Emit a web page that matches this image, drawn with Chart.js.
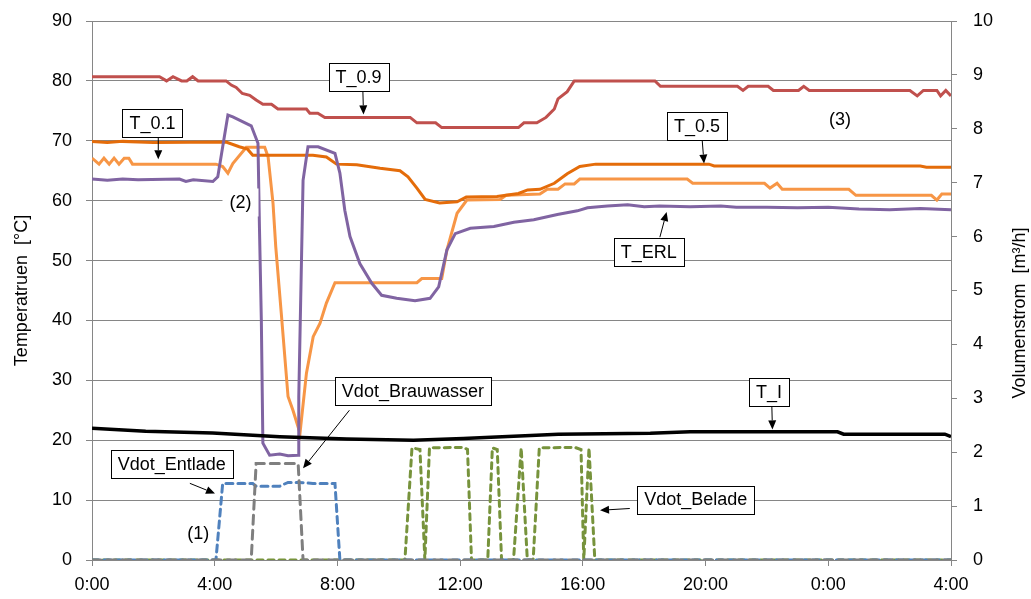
<!DOCTYPE html>
<html>
<head>
<meta charset="utf-8">
<script src="https://cdn.jsdelivr.net/npm/chart.js@4.4.1/dist/chart.umd.min.js"></script>
<style>
  html, body { margin: 0; padding: 0; background: #fff; }
  #wrap { width: 1031px; height: 599px; position: relative; }
</style>
</head>
<body>
<div id="wrap"><canvas id="myChart"></canvas></div>
<script>
// Werte als [Stunde seit 0:00, Wert]; Temperaturen in °C, Volumenströme in m³/h
const T_09 = [[0,80.7],[2.2,80.7],[2.43,80.0],[2.64,80.7],[2.92,80.0],[3.09,80.0],[3.28,80.7],[3.46,80.0],[4.37,80.0],[4.54,79.3],[4.7,78.9],[4.9,77.9],[5.14,77.6],[5.35,76.8],[5.57,76.1],[5.85,76.1],[6.06,75.3],[6.99,75.3],[7.1,74.6],[7.36,74.6],[7.59,73.9],[10.37,73.9],[10.59,73.0],[11.2,73.0],[11.4,72.2],[13.9,72.2],[14.08,73.0],[14.5,73.0],[14.8,73.9],[15.07,75.3],[15.19,77.0],[15.49,78.2],[15.72,80.0],[18.35,80.0],[18.53,79.1],[21.04,79.1],[21.22,78.4],[21.39,79.1],[22.04,79.1],[22.21,78.4],[23.03,78.4],[23.2,79.1],[23.38,78.4],[26.66,78.4],[26.9,77.5],[27.1,78.4],[27.54,78.4],[27.66,77.5],[27.83,78.4],[28,77.5]];

const T_05 = [[0,69.9],[0.5,69.7],[1,69.9],[2,69.7],[4.37,69.8],[4.8,69.0],[5.07,68.6],[5.24,67.6],[7.2,67.6],[7.64,67.3],[7.97,66.1],[8.63,66.0],[9.39,65.4],[10.04,65.0],[10.3,64.0],[10.59,62.1],[10.86,60.2],[11.33,59.6],[11.9,59.8],[12.2,60.6],[13.2,60.7],[13.9,61.2],[14.2,61.8],[14.6,61.9],[15.07,62.9],[15.49,64.5],[15.9,65.7],[16.42,66.1],[20.11,66.1],[20.28,65.8],[27.0,65.8],[27.2,65.6],[28,65.6]];

const T_01 = [[0,67.1],[0.23,66.1],[0.39,67.1],[0.56,66.1],[0.72,67.1],[0.88,66.1],[1.05,67.1],[1.2,67.1],[1.32,66.1],[4.04,66.1],[4.26,65.7],[4.43,64.6],[4.59,66.2],[5.03,68.9],[5.63,68.9],[5.74,67.3],[5.9,59.6],[5.99,52.3],[6.17,41.2],[6.39,27.3],[6.55,25.0],[6.78,21.2],[6.99,31.2],[7.21,37.3],[7.43,39.5],[7.64,42.9],[7.92,46.3],[10.59,46.3],[10.75,47.0],[11.4,47.0],[11.57,51.8],[11.9,57.9],[12.22,60.1],[13.3,60.2],[13.5,60.9],[14.6,61.1],[14.84,61.9],[15.19,61.9],[15.42,62.8],[15.72,62.8],[15.9,63.6],[19.4,63.6],[19.58,62.9],[21.92,62.9],[22.1,62.1],[22.33,62.9],[22.5,61.9],[24.67,61.9],[24.9,60.9],[27.36,60.9],[27.54,60.1],[27.7,61.1],[28,61.1]];

const T_ERL = [[0,63.6],[0.5,63.4],[1,63.6],[1.5,63.5],[2.85,63.6],[3.06,63.2],[3.3,63.5],[3.94,63.2],[4.1,64.0],[4.26,69.0],[4.43,74.3],[4.59,74.0],[5.19,72.5],[5.41,69.6],[5.46,55.1],[5.52,40.0],[5.57,19.5],[5.79,17.5],[6.12,17.7],[6.39,17.4],[6.72,17.5],[6.74,27.3],[6.88,63.4],[7.04,69.0],[7.37,69.0],[7.92,67.9],[8.08,64.6],[8.24,58.4],[8.41,54.0],[8.73,49.5],[9.12,46.2],[9.44,44.2],[9.93,43.7],[10.53,43.3],[11.02,43.7],[11.3,45.6],[11.57,51.8],[11.84,54.5],[12.33,55.4],[13.1,55.7],[13.75,56.4],[14.4,56.8],[15.17,57.7],[15.82,58.3],[16.15,58.8],[16.8,59.1],[17.46,59.3],[18.0,59.0],[18.5,59.1],[19.5,59.0],[20.5,59.1],[21.0,58.9],[22.0,58.9],[23.0,58.8],[24.0,58.9],[25.0,58.6],[26.0,58.5],[27.0,58.7],[28,58.5]];

const T_I = [[0,22.0],[1.75,21.5],[3.93,21.2],[6.12,20.6],[8.3,20.2],[10.48,20.0],[12.1,20.3],[13.0,20.5],[14.3,20.8],[15.2,21.0],[18.2,21.15],[19.5,21.4],[24.3,21.4],[24.5,21.0],[27.8,21.0],[28,20.6]];

const V_Entlade = [[0,0],[4.04,0],[4.26,1.42],[5.24,1.42],[5.35,1.37],[6.12,1.37],[6.39,1.44],[6.72,1.44],[7.2,1.42],[7.92,1.42],[8.08,0],[28,0]];

const V_Brauwasser = [[0,0],[5.19,0],[5.35,1.79],[6.72,1.79],[6.88,0],[28,0]];

const V_Belade = [[0,0],[10.2,0],[10.43,2.08],[10.69,2.05],[10.85,0],[11.0,2.08],[12.1,2.09],[12.24,2.05],[12.37,0],[12.9,0],[13.05,2.08],[13.21,2.05],[13.35,0],[13.74,0],[13.99,2.08],[14.19,0],[14.38,0],[14.58,2.08],[15.74,2.09],[15.94,2.05],[16.03,0],[16.2,2.08],[16.39,0],[28,0]];

const xTickLabels = ['0:00', '4:00', '8:00', '12:00', '16:00', '20:00', '0:00', '4:00'];

// Beschriftungen (in Achseneinheiten: Stunde, °C)
const notes = [
    { text: 'T_0.9', x: 8.69, y: 80.6, box: true, arrow: [8.83, 78.2, 8.85, 74.4] },
    { text: 'T_0.1', x: 1.97, y: 73.0, box: true, arrow: [2.16, 70.7, 2.16, 66.9] },
    { text: 'T_0.5', x: 19.72, y: 72.5, box: true, arrow: [19.89, 70.1, 19.95, 66.2] },
    { text: '(3)', x: 24.38, y: 73.7 },
    { text: '(2)', x: 4.84, y: 59.7, bg: true },
    { text: 'T_ERL', x: 18.15, y: 51.5, box: true, arrow: [18.51, 53.9, 18.73, 58.1] },
    { text: 'T_I', x: 22.07, y: 28.0, box: true, arrow: [22.16, 25.7, 22.18, 21.8] },
    { text: 'Vdot_Brauwasser', x: 10.46, y: 28.25, box: true, arrow: [8.39, 25.0, 6.88, 15.3] },
    { text: 'Vdot_Entlade', x: 2.6, y: 16.1, box: true, arrow: [3.19, 12.8, 4.01, 11.1] },
    { text: '(1)', x: 3.46, y: 4.5 },
    { text: 'Vdot_Belade', x: 19.68, y: 10.1, box: true, arrow: [17.53, 8.6, 16.56, 8.3] }
];

const FONT = "'Liberation Sans', Arial, sans-serif";
const GRID = '#868686';

function pts(arr) {
    return arr.map(p => ({ x: p[0], y: p[1] }));
}

function drawArrow(ctx, x1, y1, x2, y2) {
    const ang = Math.atan2(y2 - y1, x2 - x1);
    const len = 9, half = 4;
    ctx.beginPath();
    ctx.moveTo(x1, y1);
    ctx.lineTo(x2 - Math.cos(ang) * len, y2 - Math.sin(ang) * len);
    ctx.stroke();
    ctx.beginPath();
    ctx.moveTo(x2, y2);
    ctx.lineTo(x2 - Math.cos(ang) * len - Math.sin(ang) * half, y2 - Math.sin(ang) * len + Math.cos(ang) * half);
    ctx.lineTo(x2 - Math.cos(ang) * len + Math.sin(ang) * half, y2 - Math.sin(ang) * len - Math.cos(ang) * half);
    ctx.closePath();
    ctx.fill();
}

const notesPlugin = {
    id: 'notes',
    afterDatasetsDraw(chart) {
        const ctx = chart.ctx;
        const sx = chart.scales.x, sy = chart.scales.y;
        ctx.save();
        ctx.font = '18px ' + FONT;
        ctx.textAlign = 'center';
        ctx.textBaseline = 'middle';
        ctx.lineWidth = 1;
        ctx.strokeStyle = '#000';
        ctx.fillStyle = '#000';
        notes.forEach(n => {
            const px = sx.getPixelForValue(n.x);
            const py = sy.getPixelForValue(n.y);
            const w = ctx.measureText(n.text).width;
            if (n.arrow) {
                drawArrow(ctx,
                    sx.getPixelForValue(n.arrow[0]), sy.getPixelForValue(n.arrow[1]),
                    sx.getPixelForValue(n.arrow[2]), sy.getPixelForValue(n.arrow[3]));
            }
            if (n.box || n.bg) {
                const bw = w + 14, bh = 28;
                ctx.fillStyle = '#fff';
                ctx.fillRect(Math.round(px - bw / 2) + 0.5, Math.round(py - bh / 2) + 0.5, Math.round(bw), bh);
                if (n.box) {
                    ctx.strokeRect(Math.round(px - bw / 2) + 0.5, Math.round(py - bh / 2) + 0.5, Math.round(bw), bh);
                }
                ctx.fillStyle = '#000';
            }
            ctx.fillText(n.text, px, py + 1);
        });
        // rechte Achsenbeschriftung, von unten nach oben gelesen
        ctx.translate(1020, 313);
        ctx.rotate(-Math.PI / 2);
        ctx.fillText('Volumenstrom  [m³/h]', 0, 0);
        ctx.restore();
    }
};

document.addEventListener('DOMContentLoaded', function () {
    const ctx = document.getElementById('myChart').getContext('2d');

    const line = (label, data, color, axis, width, dash) => ({
        label: label,
        data: pts(data),
        yAxisID: axis,
        borderColor: color,
        backgroundColor: color,
        borderWidth: width,
        borderDash: dash || [],
        borderCapStyle: dash ? 'round' : 'butt',
        pointRadius: 0,
        tension: 0,
        fill: false
    });

    new Chart(ctx, {
        type: 'line',
        data: {
            datasets: [
                line('T_I', T_I, '#000000', 'y', 3.5),
                line('T_ERL', T_ERL, '#8064A2', 'y', 3),
                line('T_0.5', T_05, '#E46C0A', 'y', 3),
                line('T_0.1', T_01, '#F79646', 'y', 3),
                line('T_0.9', T_09, '#C0504D', 'y', 3),
                line('Vdot_Brauwasser', V_Brauwasser, '#7F7F7F', 'y2', 3, [9, 6]),
                line('Vdot_Entlade', V_Entlade, '#4F81BD', 'y2', 3, [7, 5]),
                line('Vdot_Belade', V_Belade, '#77933C', 'y2', 3, [6, 5])
            ]
        },
        options: {
            responsive: true,
            maintainAspectRatio: false,
            animation: false,
            layout: { padding: { top: 21, left: 0, right: 0, bottom: 0 } },
            scales: {
                x: {
                    type: 'linear',
                    min: 0,
                    max: 28,
                    afterFit: s => { s.height = 39; },
                    afterBuildTicks: s => { s.ticks = xTickLabels.map((t, i) => ({ value: i * 4 })); },
                    ticks: {
                        color: '#000',
                        font: { family: FONT, size: 18 },
                        padding: 8,
                        maxRotation: 0,
                        callback: (v, i) => xTickLabels[i]
                    },
                    grid: { drawOnChartArea: false, tickLength: 6, color: GRID },
                    border: { color: GRID }
                },
                y: {
                    position: 'left',
                    min: 0,
                    max: 90,
                    afterFit: s => { s.width = 92; s.paddingTop = 0; s.paddingBottom = 0; },
                    ticks: { stepSize: 10, color: '#000', font: { family: FONT, size: 18 }, padding: 14 },
                    grid: { color: GRID, tickLength: 6 },
                    border: { color: GRID },
                    title: {
                        display: true,
                        text: 'Temperatruen  [°C]',
                        color: '#000',
                        font: { family: FONT, size: 18 },
                        padding: { top: 11, bottom: 0 }
                    }
                },
                y2: {
                    position: 'right',
                    min: 0,
                    max: 10,
                    afterFit: s => { s.width = 80; s.paddingTop = 0; s.paddingBottom = 0; },
                    ticks: { stepSize: 1, color: '#000', font: { family: FONT, size: 18 }, padding: 16 },
                    grid: { drawOnChartArea: false, tickLength: 6, color: GRID },
                    border: { color: GRID }
                }
            },
            plugins: {
                legend: { display: false },
                tooltip: { enabled: false }
            }
        },
        plugins: [notesPlugin]
    });
});
</script>
</body>
</html>
